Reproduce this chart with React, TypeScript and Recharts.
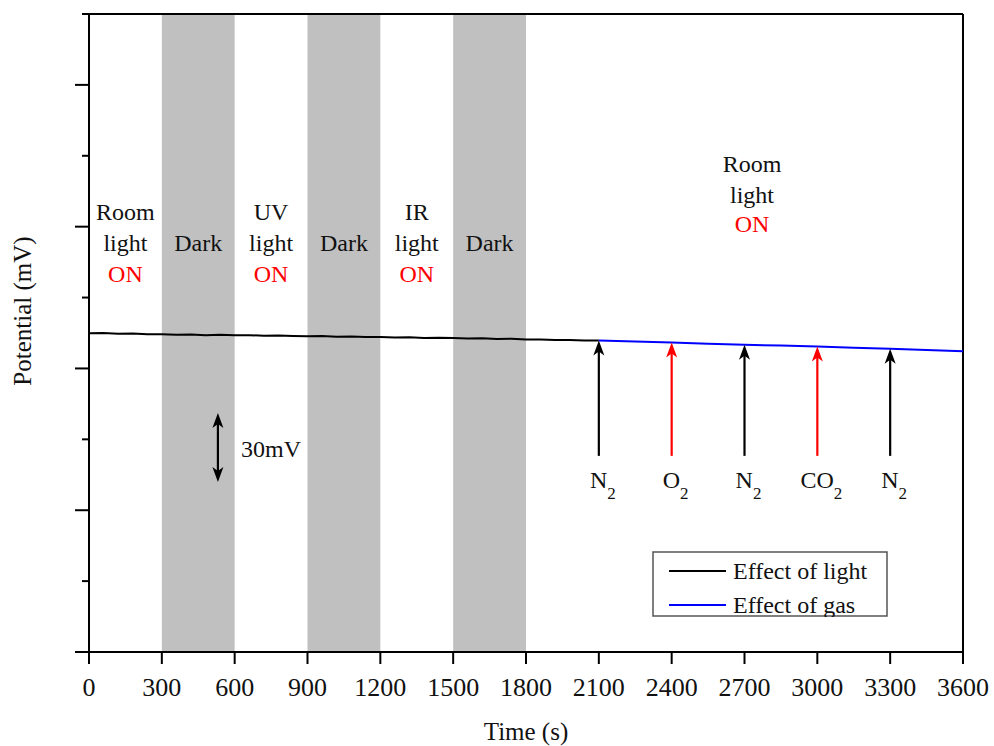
import React from 'react';
import {
  ComposedChart,
  Line,
  XAxis,
  YAxis,
  ReferenceArea,
  ReferenceLine,
  ReferenceDot,
  Legend,
} from 'recharts';

const FONT = '"Liberation Serif", "Times New Roman", serif';

// ---- data ----
const xTicks = [0, 300, 600, 900, 1200, 1500, 1800, 2100, 2400, 2700, 3000, 3300, 3600];
const yTicks = [0, 30, 60, 90, 120, 150, 180, 210, 240, 270];

const lightTimes = [0, 60, 120, 180, 240, 300, 360, 420, 480, 540, 600, 660, 720, 780, 840, 900, 960, 1020, 1080, 1140, 1200, 1260, 1320, 1380, 1440, 1500, 1560, 1620, 1680, 1740, 1800, 1860, 1920, 1980, 2040, 2100];
const lightValues = [134.9, 135.0, 134.7, 134.8, 134.5, 134.5, 134.3, 134.4, 134.1, 134.3, 134.0, 134.1, 133.8, 133.9, 133.7, 133.6, 133.7, 133.4, 133.5, 133.3, 133.3, 133.1, 133.2, 132.9, 133.0, 132.9, 132.7, 132.8, 132.5, 132.6, 132.3, 132.2, 132.0, 132.0, 131.8, 131.8];

const gasTimes = [2100, 2250, 2400, 2550, 2700, 2850, 3000, 3150, 3300, 3450, 3600];
const gasValues = [131.8, 131.4, 131.0, 130.5, 130.0, 129.7, 129.3, 128.8, 128.3, 127.8, 127.3];

const darkStarts = [300, 900, 1500];
const darkEnds = [600, 1200, 1800];

// text annotations: [time, baseline value, text, color]
const noteTimes = [150, 150, 150, 450, 750, 750, 750, 1050, 1350, 1350, 1350, 1650, 2731, 2731, 2731];
const noteValues = [182.8, 169.7, 156.6, 169.7, 182.8, 169.7, 156.6, 169.7, 182.8, 169.7, 156.6, 169.7, 203.1, 190.0, 177.7];
const noteTexts = ['Room', 'light', 'ON', 'Dark', 'UV', 'light', 'ON', 'Dark', 'IR', 'light', 'ON', 'Dark', 'Room', 'light', 'ON'];
const noteColors = ['#111', '#111', '#ff0000', '#111', '#111', '#111', '#ff0000', '#111', '#111', '#111', '#ff0000', '#111', '#111', '#111', '#ff0000'];

// gas injection arrows
const gasArrowTimes = [2100, 2400, 2700, 3000, 3300];
const gasArrowTips = [131.8, 131.0, 130.0, 129.3, 128.3];
const gasArrowBase = 83;
const gasArrowColors = ['#000000', '#ff0000', '#000000', '#ff0000', '#000000'];
const gasLabelMain = ['N', 'O', 'N', 'CO', 'N'];
const gasLabelSub = ['2', '2', '2', '2', '2'];
const gasLabelValue = 69.4;

// scale bar
const scaleBarTime = 531;
const scaleBarTop = 101.1;
const scaleBarBottom = 71.9;
const scaleLabelTime = 626;
const scaleLabelValue = 82.5;
const scaleLabel = '30mV';

const seriesNames = ['Effect of light', 'Effect of gas'];
const seriesColors = ['#000000', '#0000ff'];

const lightData = lightTimes.map((t, i) => ({ t, v: lightValues[i] }));
const gasData = gasTimes.map((t, i) => ({ t, v: gasValues[i] }));

const YTick = (props: any) => {
  const { x, y, payload } = props;
  const major = payload.value % 60 === 0;
  const len = major ? 14 : 7;
  return <line x1={x - len} y1={y} x2={x} y2={y} stroke="#000" strokeWidth={2} />;
};

const arrowUp = (color: string) => (p: any) => (
  <path
    d={`M${p.cx},${p.cy} L${p.cx + 5.5},${p.cy + 15} L${p.cx},${p.cy + 11} L${p.cx - 5.5},${p.cy + 15} Z`}
    fill={color}
  />
);
const arrowDown = (color: string) => (p: any) => (
  <path
    d={`M${p.cx},${p.cy} L${p.cx + 5.5},${p.cy - 15} L${p.cx},${p.cy - 11} L${p.cx - 5.5},${p.cy - 15} Z`}
    fill={color}
  />
);

const textShape = (text: string, color: string, anchor: string = 'middle') => (p: any) => (
  <text x={p.cx} y={p.cy} textAnchor={anchor} fontFamily={FONT} fontSize={24} fill={color}>
    {text}
  </text>
);

const subShape = (main: string, sub: string) => (p: any) => (
  <text x={p.cx + 4} y={p.cy} textAnchor="middle" fontFamily={FONT} fontSize={24} fill="#111">
    <tspan>{main}</tspan>
    <tspan fontSize={17} dy={11}>{sub}</tspan>
  </text>
);

const renderLegend = () => (
  <svg width={236} height={66}>
    <rect x={1} y={1} width={234} height={64} fill="#fff" stroke="#555" strokeWidth={1.5} />
    {seriesNames.map((n, i) => (
      <g key={n}>
        <line x1={17} x2={74} y1={20 + i * 34} y2={20 + i * 34} stroke={seriesColors[i]} strokeWidth={2} />
        <text x={81} y={28 + i * 34} fontFamily={FONT} fontSize={24} fill="#111">
          {n}
        </text>
      </g>
    ))}
  </svg>
);

const YLabel = (props: any) => {
  const vb = props.viewBox || {};
  const cy = (vb.y ?? 14) + (vb.height ?? 638) / 2 - 22;
  return (
    <text
      transform={`translate(31, ${cy}) rotate(-90)`}
      textAnchor="middle"
      fontFamily={FONT}
      fontSize={25}
      fill="#111"
    >
      Potential (mV)
    </text>
  );
};

export default function App() {
  return (
    <div style={{ position: 'absolute', left: 0, top: 0, width: 994, height: 746, background: '#fff' }}>
      <ComposedChart width={994} height={746} margin={{ top: 14, right: 31, bottom: 0, left: 0 }}>
        {darkStarts.map((s, i) => (
          <ReferenceArea
            key={'dark' + s}
            x1={s}
            x2={darkEnds[i]}
            y1={0}
            y2={270}
            fill="#c0c0c0"
            fillOpacity={1}
            stroke="none"
          />
        ))}
        <XAxis
          dataKey="t"
          type="number"
          domain={[0, 3600]}
          ticks={xTicks}
          height={94}
          allowDataOverflow
          axisLine={{ stroke: '#000', strokeWidth: 2 }}
          tickLine={{ stroke: '#000', strokeWidth: 2 }}
          tickSize={12}
          tickMargin={14}
          tick={{ fontSize: 26, fill: '#111', fontFamily: FONT }}
          interval={0}
          label={{ value: 'Time (s)', position: 'insideBottom', offset: 6, fontSize: 25, fill: '#111', fontFamily: FONT }}
        />
        <YAxis
          type="number"
          domain={[0, 270]}
          ticks={yTicks}
          width={89}
          allowDataOverflow
          axisLine={{ stroke: '#000', strokeWidth: 2 }}
          tickLine={false}
          tickSize={0}
          tickMargin={0}
          tick={<YTick />}
          interval={0}
          label={<YLabel />}
        />
        <ReferenceLine y={270} stroke="#000" strokeWidth={2} ifOverflow="extendDomain" />
        <ReferenceLine x={3600} stroke="#000" strokeWidth={2} ifOverflow="extendDomain" />

        {noteTimes.map((t, i) => (
          <ReferenceDot
            key={'note' + i}
            x={t}
            y={noteValues[i]}
            r={0}
            shape={textShape(noteTexts[i], noteColors[i])}
          />
        ))}

        <Line
          data={lightData}
          dataKey="v"
          name={seriesNames[0]}
          stroke={seriesColors[0]}
          strokeWidth={2}
          dot={false}
          type="linear"
          isAnimationActive={false}
        />
        <Line
          data={gasData}
          dataKey="v"
          name={seriesNames[1]}
          stroke={seriesColors[1]}
          strokeWidth={2}
          dot={false}
          type="linear"
          isAnimationActive={false}
        />

        {gasArrowTimes.map((t, i) => (
          <ReferenceLine
            key={'ash' + t}
            segment={[
              { x: t, y: gasArrowBase },
              { x: t, y: gasArrowTips[i] - 3 },
            ]}
            stroke={gasArrowColors[i]}
            strokeWidth={2.2}
          />
        ))}
        {gasArrowTimes.map((t, i) => (
          <ReferenceDot key={'ahd' + t} x={t} y={gasArrowTips[i]} r={0} shape={arrowUp(gasArrowColors[i])} />
        ))}
        {gasArrowTimes.map((t, i) => (
          <ReferenceDot
            key={'alb' + t}
            x={t}
            y={gasLabelValue}
            r={0}
            shape={subShape(gasLabelMain[i], gasLabelSub[i])}
          />
        ))}

        <ReferenceLine
          segment={[
            { x: scaleBarTime, y: scaleBarBottom + 2 },
            { x: scaleBarTime, y: scaleBarTop - 2 },
          ]}
          stroke="#000"
          strokeWidth={2.2}
        />
        <ReferenceDot x={scaleBarTime} y={scaleBarTop} r={0} shape={arrowUp('#000')} />
        <ReferenceDot x={scaleBarTime} y={scaleBarBottom} r={0} shape={arrowDown('#000')} />
        <ReferenceDot
          x={scaleLabelTime}
          y={scaleLabelValue}
          r={0}
          shape={textShape(scaleLabel, '#111', 'start')}
        />

        <Legend
          layout="vertical"
          align="center"
          verticalAlign="middle"
          content={renderLegend}
          wrapperStyle={{ left: 652, top: 551, width: 236, height: 66 }}
        />
      </ComposedChart>
    </div>
  );
}
